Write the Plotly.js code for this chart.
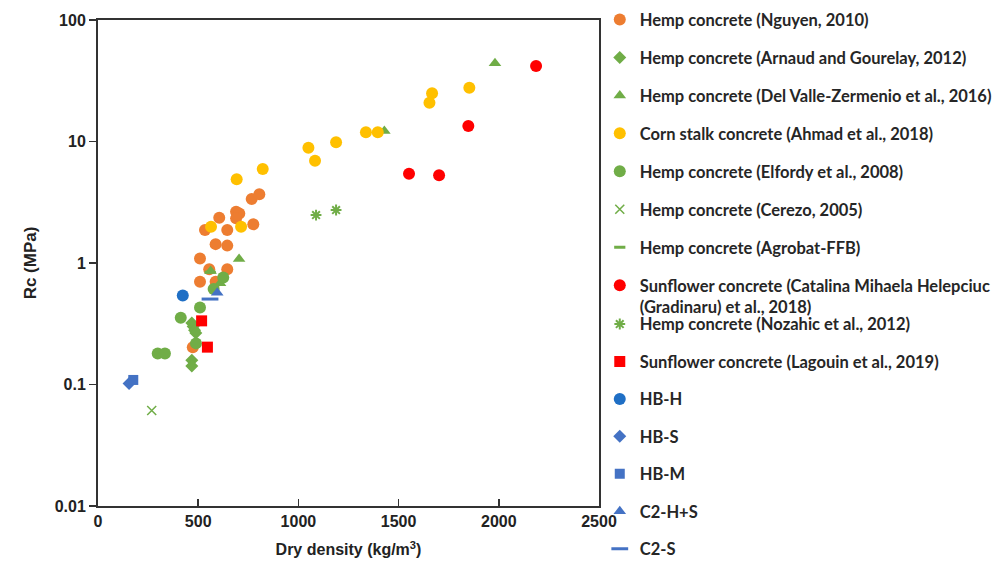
<!DOCTYPE html>
<html>
<head>
<meta charset="utf-8">
<script src="https://cdn.plot.ly/plotly-3.0.1.min.js"></script>
<style>html,body{margin:0;padding:0;background:#fff;}#chart{width:993px;height:565px;}</style>
</head>
<body>
<div id="chart"></div>
<script>
// Data (density kg/m3, Rc MPa)
const nguyenX = [767, 805, 689, 705, 689, 605, 775, 534, 645, 587, 645, 509, 555, 645, 509, 587, 473];
const nguyenY = [3.36, 3.68, 2.64, 2.56, 2.33, 2.36, 2.08, 1.87, 1.87, 1.43, 1.39, 1.09, 0.89, 0.89, 0.70, 0.70, 0.203];
const arnaudX = [468, 475, 482, 488, 468, 468];
const arnaudY = [0.32, 0.30, 0.28, 0.265, 0.158, 0.142];
const delValleX = [562, 609, 704, 1429, 1981];
const delValleY = [0.86, 0.68, 1.08, 12.2, 44];
const ahmadX = [564, 714, 692, 822, 1050, 1083, 1188, 1337, 1396, 1654, 1667, 1853];
const ahmadY = [1.99, 1.99, 4.9, 5.94, 8.9, 6.95, 9.85, 11.9, 11.9, 20.8, 24.9, 27.7];
const elfordyX = [625, 577, 509, 413, 489, 298, 334];
const elfordyY = [0.76, 0.61, 0.43, 0.355, 0.218, 0.18, 0.18];
const cerezoX = [268];
const cerezoY = [0.061];
const agrobatX = [560];
const agrobatY = [0.84];
const helepciucX = [1552, 1702, 1848, 2186];
const helepciucY = [5.43, 5.27, 13.4, 41.8];
const nozahicX = [1088, 1188];
const nozahicY = [2.48, 2.73];
const lagouinX = [517, 546];
const lagouinY = [0.334, 0.203];
const hbhX = [423]; const hbhY = [0.54];
const hbsX = [155]; const hbsY = [0.102];
const hbmX = [176]; const hbmY = [0.109];
const c2hsX = [595]; const c2hsY = [0.57];
const c2sX = [559]; const c2sY = [0.505];

const yTickVals = [0.01, 0.1, 1, 10, 100];
const yTickText = ['0.01', '0.1', '1', '10', '100'];
const xTickVals = [0, 500, 1000, 1500, 2000, 2500];

const ORANGE = '#ED7D31', GREEN = '#70AD47', YELLOW = '#FFC000', RED = '#FF0000', BLUE = '#4472C4', DBLUE = '#1F6FC5';

let gi = 0;
function tr(name, x, y, symbol, color, size, legend, lineW) {
  gi++;
  const m = {symbol: symbol, color: color, size: size};
  if (lineW) m.line = {color: color, width: lineW};
  const t = {type: 'scatter', mode: 'markers', name: name, x: x, y: y, marker: m,
    legendgroup: 'g' + gi, hoverinfo: 'x+y+name'};
  if (legend) t.legend = legend;
  return t;
}

const data = [
  tr('Hemp concrete (Nguyen, 2010)', nguyenX, nguyenY, 'circle', ORANGE, 12),
  tr('Hemp concrete (Arnaud and Gourelay, 2012)', arnaudX, arnaudY, 'diamond', GREEN, 10),
  tr('Hemp concrete (Del Valle-Zermenio et al., 2016)', delValleX, delValleY, 'triangle-up', GREEN, 11),
  tr('Corn stalk concrete (Ahmad et al., 2018)', ahmadX, ahmadY, 'circle', YELLOW, 12),
  tr('Hemp concrete (Elfordy et al., 2008)', elfordyX, elfordyY, 'circle', GREEN, 12),
  tr('Hemp concrete (Cerezo, 2005)', cerezoX, cerezoY, 'x-thin-open', GREEN, 9, null, 1.5),
  tr('Hemp concrete (Agrobat-FFB)', agrobatX, agrobatY, 'line-ew-open', GREEN, 8, null, 3),
  tr('Sunflower concrete (Catalina Mihaela Helepciuc<br>(Gradinaru) et al., 2018)', helepciucX, helepciucY, 'circle', RED, 12),
  tr('Hemp concrete (Nozahic et al., 2012)', nozahicX, nozahicY, 'asterisk-open', GREEN, 9, 'legend2', 2),
  tr('Sunflower concrete (Lagouin et al., 2019)', lagouinX, lagouinY, 'square', RED, 11, 'legend2'),
  tr('HB-H', hbhX, hbhY, 'circle', DBLUE, 12, 'legend2'),
  tr('HB-S', hbsX, hbsY, 'diamond', BLUE, 10, 'legend2'),
  tr('HB-M', hbmX, hbmY, 'square', BLUE, 10, 'legend2'),
  tr('C2-H+S', c2hsX, c2hsY, 'triangle-up', BLUE, 11, 'legend2'),
  tr('C2-S', c2sX, c2sY, 'line-ew-open', BLUE, 12, 'legend2', 3)
];

const legendFont = {family: 'Lato, "Open Sans", sans-serif', size: 16.5, color: '#262626', weight: 'bold'};
const tickFont = {family: '"Liberation Sans", Arial, sans-serif', size: 16, color: '#222', weight: 'bold'};

const layout = {
  width: 993, height: 565,
  margin: {l: 98, r: 394, t: 20, b: 59, autoexpand: false},
  paper_bgcolor: '#fff', plot_bgcolor: '#fff',
  showlegend: true,
  xaxis: {
    range: [0, 2500], tickvals: xTickVals, ticks: 'inside', ticklen: 7, tickwidth: 1.5, tickcolor: '#333',
    showline: true, linecolor: '#333', linewidth: 2, mirror: true, showgrid: false, zeroline: false,
    tickfont: tickFont,
    title: {text: 'Dry density (kg/m<sup>3</sup>)', font: {family: '"Liberation Sans", Arial, sans-serif', size: 16, color: '#222', weight: 'bold'}, standoff: 15}
  },
  yaxis: {
    type: 'log', range: [-2, 2], tickvals: yTickVals, ticktext: yTickText,
    ticks: 'outside', ticklen: 7, tickwidth: 1.5, tickcolor: '#333',
    showline: true, linecolor: '#333', linewidth: 2, mirror: true, showgrid: false, zeroline: false,
    tickfont: tickFont,
    title: {text: 'Rc (MPa)', font: {family: '"Liberation Sans", Arial, sans-serif', size: 17, color: '#222', weight: 'bold'}, standoff: 14}
  },
  legend: {
    xref: 'container', yref: 'container',
    x: 0.604, xanchor: 'left', y: 0.996, yanchor: 'top', maxheight: 560, valign: 'top',
    font: legendFont, tracegroupgap: 13.5, bgcolor: 'rgba(0,0,0,0)', traceorder: 'grouped'
  },
  legend2: {
    xref: 'container', yref: 'container',
    x: 0.604, xanchor: 'left', y: 0.4570, yanchor: 'top', maxheight: 560,
    font: legendFont, tracegroupgap: 13, bgcolor: 'rgba(0,0,0,0)', traceorder: 'grouped'
  }
};

Plotly.newPlot('chart', data, layout, {displayModeBar: false, staticPlot: true});
</script>
</body>
</html>
